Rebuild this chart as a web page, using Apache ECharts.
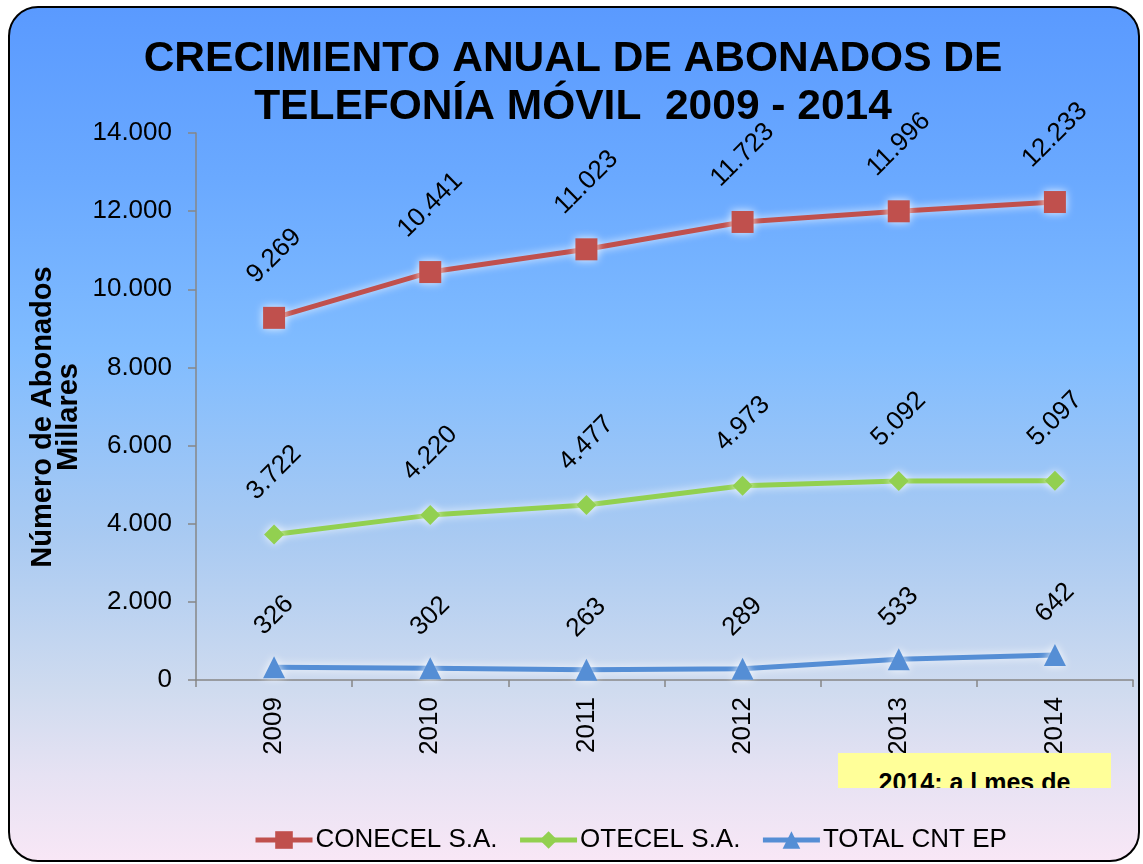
<!DOCTYPE html>
<html lang="es">
<head>
<meta charset="UTF-8">
<title>Crecimiento anual de abonados de telefonía móvil</title>
<style>
    html, body { margin: 0; padding: 0; width: 1143px; height: 864px; overflow: hidden; background: #fff; }
    .marco {
        position: absolute; left: 8px; top: 6px; width: 1128px; height: 852px;
        border: 2px solid #000; border-radius: 30px;
        background: linear-gradient(to bottom, #5a9aff 0%, #6aa9ff 20%, #80bcff 40%, #a9caf2 62%, #cfdbef 80%, #e6e2f3 90%, #f8e7f6 100%);
    }
    #chart { position: absolute; left: 0; top: 0; width: 1143px; height: 864px; }
    .nota {
        position: absolute; left: 838px; top: 753px; width: 273px; height: 35px;
        background: #ffff99; overflow: hidden; text-align: center;
        font-family: "Liberation Sans", Arial, sans-serif; font-weight: bold; font-size: 25px;
        line-height: 30px; padding-top: 14px; box-sizing: border-box;
    }
</style>
</head>
<body>
<div class="marco"></div>
<div id="chart"></div>
<div class="nota">2014: a l mes de</div>
<script src="https://cdn.jsdelivr.net/npm/echarts@6/dist/echarts.min.js"></script>
<script>
    const years = ['2009', '2010', '2011', '2012', '2013', '2014'];
    const conecel = [9269, 10441, 11023, 11723, 11996, 12233];
    const otecel = [3722, 4220, 4477, 4973, 5092, 5097];
    const cnt = [326, 302, 263, 289, 533, 642];

    const fmt = function (v) {
        return String(v).replace(/\B(?=(\d{3})+(?!\d))/g, '.');
    };

    // etiqueta girada: la distancia crece con el largo del texto
    const conEtiqueta = function (arr, half) {
        return arr.map(function (v) {
            return { value: v, label: { distance: 28 - half + (fmt(v).length * 14 + 26) / 2.83 } };
        });
    };

    const glow = { shadowColor: 'rgba(255,255,255,0.85)', shadowBlur: 8 };

    const serie = function (name, data, color, symbol, size) {
        return {
            name: name,
            type: 'line',
            data: conEtiqueta(data, size / 2),
            symbol: symbol,
            symbolSize: size,
            lineStyle: Object.assign({ color: color, width: 5 }, glow),
            itemStyle: Object.assign({ color: color }, glow),
            label: {
                show: true,
                position: 'top',
                rotate: 45,
                align: 'center',
                verticalAlign: 'middle',
                fontFamily: 'Liberation Sans',
                fontSize: 26,
                color: '#000',
                formatter: function (p) { return fmt(p.value); }
            },
            emphasis: { disabled: true }
        };
    };

    const chart = echarts.init(document.getElementById('chart'));
    chart.setOption({
        backgroundColor: 'transparent',
        animation: false,
        title: {
            text: 'CRECIMIENTO ANUAL DE ABONADOS DE\nTELEFONÍA MÓVIL  2009 - 2014',
            left: 568,
            top: 30,
            textAlign: 'center',
            textStyle: { fontFamily: 'Liberation Sans', fontWeight: 'bold', fontSize: 42.5, lineHeight: 48, color: '#000' }
        },
        grid: { left: 196, right: 10, top: 133, bottom: 184, containLabel: false },
        legend: {
            left: 248,
            top: 822,
            itemWidth: 57,
            itemHeight: 22,
            itemGap: 20,
            lineStyle: { width: 5 },
            textStyle: { fontFamily: 'Liberation Sans', fontSize: 26, color: '#000', padding: [0, 0, 0, -2] },
            data: ['CONECEL S.A.', 'OTECEL S.A.', 'TOTAL CNT EP']
        },
        xAxis: {
            type: 'category',
            data: years,
            boundaryGap: true,
            axisLine: { lineStyle: { color: '#878787', width: 1.5 } },
            axisTick: { show: true, length: 7, interval: 0, lineStyle: { color: '#878787', width: 1.5 } },
            axisLabel: { rotate: 90, margin: 17, fontFamily: 'Liberation Sans', fontSize: 26, color: '#000' }
        },
        yAxis: {
            type: 'value',
            min: 0,
            max: 14000,
            interval: 2000,
            splitLine: { show: false },
            axisLine: { show: true, lineStyle: { color: '#878787', width: 1.5 } },
            axisTick: { show: true, length: 8, lineStyle: { color: '#878787', width: 1.5 } },
            axisLabel: { margin: 24, fontFamily: 'Liberation Sans', fontSize: 26, color: '#000', formatter: fmt }
        },
        graphic: [{
            type: 'text',
            x: 56,
            y: 417,
            rotation: Math.PI / 2,
            style: {
                text: 'Número de Abonados\nMillares',
                align: 'center',
                verticalAlign: 'middle',
                fontFamily: 'Liberation Sans',
                fontWeight: 'bold',
                fontSize: 29,
                lineHeight: 26,
                fill: '#000'
            }
        }],
        series: [
            serie('CONECEL S.A.', conecel, '#c0504d', 'rect', 22),
            serie('OTECEL S.A.', otecel, '#92d050', 'diamond', 20),
            serie('TOTAL CNT EP', cnt, '#558ed5', 'triangle', 22)
        ]
    });
</script>
</body>
</html>
